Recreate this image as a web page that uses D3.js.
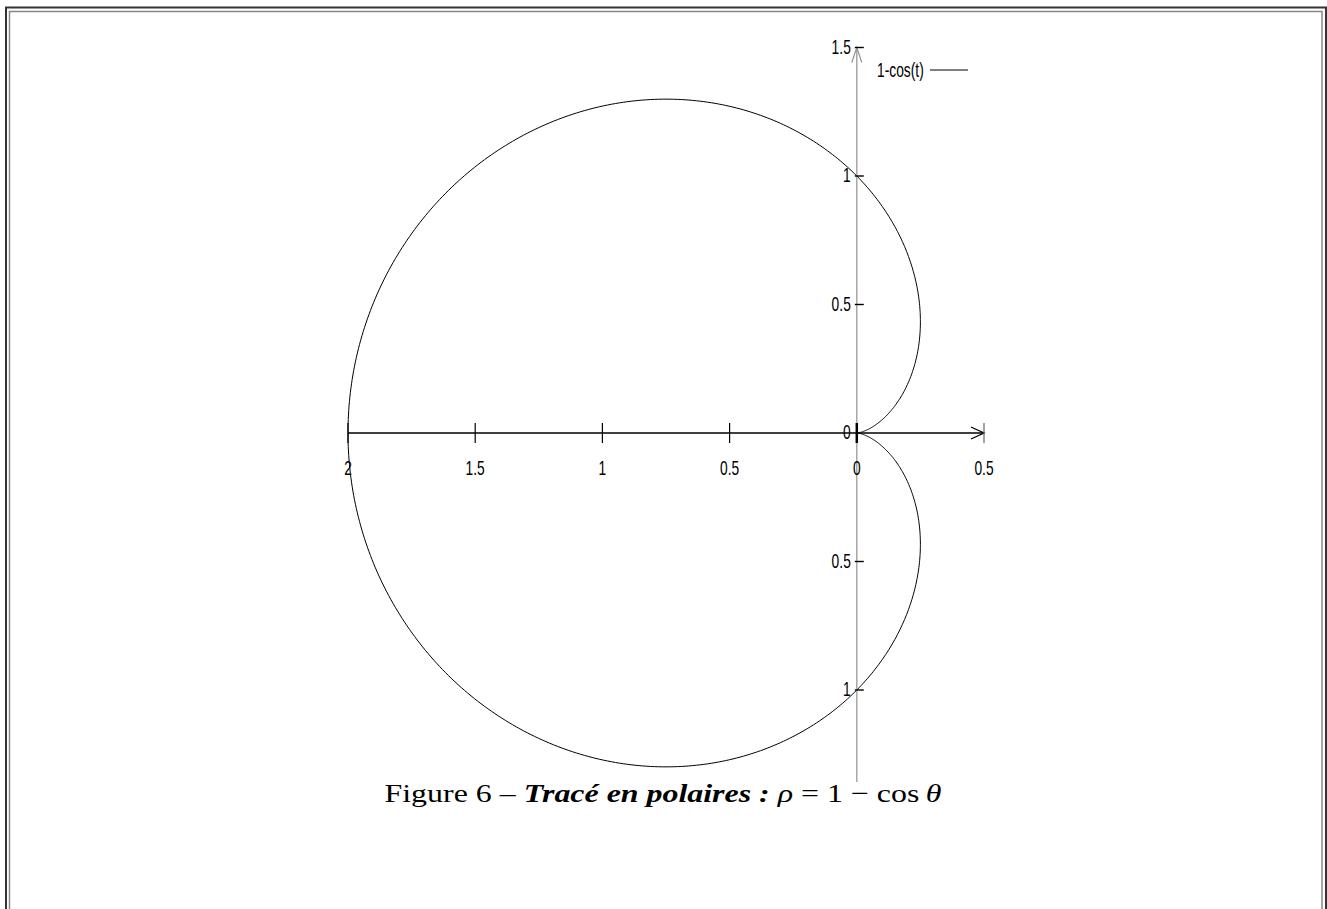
<!DOCTYPE html>
<html>
<head>
<meta charset="utf-8">
<script src="https://cdn.jsdelivr.net/npm/d3@7"></script>
<style>
  html, body { margin: 0; padding: 0; background: #fff; }
  svg { display: block; }
  .tick-label { font-family: "Liberation Sans", Arial, sans-serif; font-size: 20px; fill: #000; }
  .caption { font-family: "Liberation Serif", "DejaVu Serif", serif; font-size: 26px; fill: #000; }
</style>
</head>
<body>
<svg id="chart" width="1327" height="909"></svg>
<script>
// Polar curve rho = 1 - cos(theta), traced for theta in [0, 2*pi]
const curveLabel = "1-cos(t)";
const xTicks = [-2, -1.5, -1, -0.5, 0, 0.5];
const yTicks = [1.5, 1, 0.5, 0, -0.5, -1];
const xDomain = [-2, 0.5];
const yDomain = [-1.358, 1.5];
const thetaSteps = 720;
const rho = t => 1 - Math.cos(t);

const svg = d3.select("#chart");
const narrow = 0.69; // horizontal condensing of the axis font

// page frame: dark outer rule, grey inner rule
svg.append("rect").attr("x", 6).attr("y", 7.5).attr("width", 1320).attr("height", 920)
  .attr("fill", "none").attr("stroke", "#333").attr("stroke-width", 2);
svg.append("rect").attr("x", 9.5).attr("y", 11.5).attr("width", 1312.5).attr("height", 920)
  .attr("fill", "none").attr("stroke", "#888").attr("stroke-width", 1.5);

const x = d3.scaleLinear().domain(xDomain).range([348, 984]);
const y = d3.scaleLinear().domain([0, 1]).range([433, 176]);

const g = svg.append("g");

function label(sel, px, py, anchor) {
  return sel.append("text")
    .attr("class", "tick-label")
    .attr("text-anchor", anchor)
    .attr("transform", (d) => `translate(${px(d)},${py(d)}) scale(${narrow},1)`);
}

// curve
const thetas = d3.range(thetaSteps + 1).map(i => i * 2 * Math.PI / thetaSteps);
const pts = thetas.map(t => [rho(t) * Math.cos(t), rho(t) * Math.sin(t)]);
g.append("path")
  .datum(pts)
  .attr("fill", "none")
  .attr("stroke", "#000")
  .attr("stroke-width", 1)
  .attr("d", d3.line().x(d => x(d[0])).y(d => y(d[1])));

// vertical axis (grey) with arrow at top
const yAxisColor = "#999";
g.append("line")
  .attr("x1", x(0)).attr("x2", x(0))
  .attr("y1", y(yDomain[0])).attr("y2", y(yDomain[1]))
  .attr("stroke", yAxisColor).attr("stroke-width", 1.3);
g.append("path")
  .attr("d", `M${x(0) - 5},${y(yDomain[1]) + 15} L${x(0)},${y(yDomain[1])} L${x(0) + 5},${y(yDomain[1]) + 15}`)
  .attr("fill", "none").attr("stroke", yAxisColor).attr("stroke-width", 1.3);

// horizontal axis (black) with arrow at right
g.append("line")
  .attr("x1", x(xDomain[0])).attr("x2", x(xDomain[1]))
  .attr("y1", y(0)).attr("y2", y(0))
  .attr("stroke", "#000").attr("stroke-width", 1.3);
g.append("path")
  .attr("d", `M${x(xDomain[1]) - 13},${y(0) - 6} L${x(xDomain[1])},${y(0)} L${x(xDomain[1]) - 13},${y(0) + 6}`)
  .attr("fill", "none").attr("stroke", "#000").attr("stroke-width", 1.3);

// x ticks and labels (absolute values)
const xt = g.selectAll(".xt").data(xTicks).enter().append("g");
xt.append("line")
  .attr("x1", d => x(d)).attr("x2", d => x(d))
  .attr("y1", y(0) - 10).attr("y2", y(0) + 10)
  .attr("stroke", d => d === xDomain[1] ? "#666" : "#000")
  .attr("stroke-width", d => d === 0 ? 2.5 : 1.2);
label(xt, d => x(d), () => y(0) + 42, "middle")
  .attr("fill", d => d === 0 ? "#777" : "#000")
  .text(d => d3.format("")(Math.abs(d)));

// y ticks and labels (absolute values)
const yt = g.selectAll(".yt").data(yTicks).enter().append("g");
yt.filter(d => d !== 0).append("line")
  .attr("x1", x(0) - 2).attr("x2", x(0) + 7)
  .attr("y1", d => y(d)).attr("y2", d => y(d))
  .attr("stroke", "#000").attr("stroke-width", 1.4);
label(yt, () => x(0) - 6, d => y(d) + 6, "end")
  .text(d => d3.format("")(Math.abs(d)));

// legend
label(g.append("g").datum(0), () => 877, () => 77, "start").text(curveLabel);
g.append("line")
  .attr("x1", 930).attr("x2", 968).attr("y1", 70).attr("y2", 70)
  .attr("stroke", "#000").attr("stroke-width", 1);

// caption
const cap = svg.append("text").attr("class", "caption")
  .attr("x", 663).attr("y", 802).attr("text-anchor", "middle")
  .attr("textLength", 557).attr("lengthAdjust", "spacingAndGlyphs");
cap.append("tspan").text("Figure 6 – ");
cap.append("tspan").attr("font-weight", "bold").attr("font-style", "italic").text("Tracé en polaires :");
cap.append("tspan").text(" ");
cap.append("tspan").attr("font-style", "italic").text("ρ");
cap.append("tspan").text("\u2005=\u20051\u2005−\u2005cos\u2009");
cap.append("tspan").attr("font-style", "italic").text("θ");
</script>
</body>
</html>
